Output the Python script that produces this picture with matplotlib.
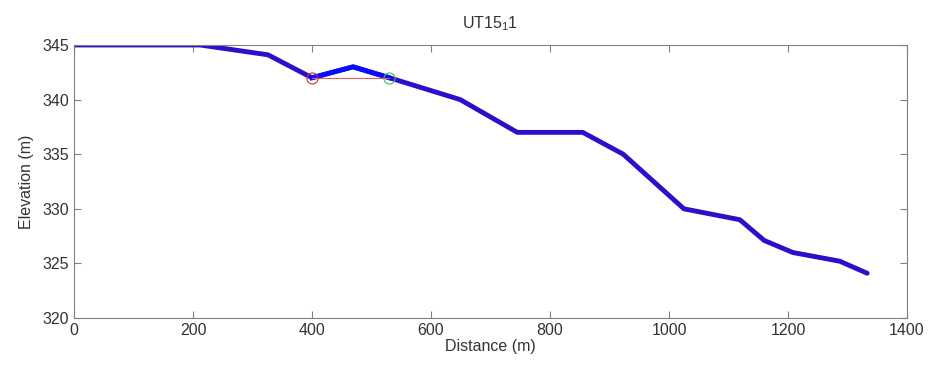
import matplotlib
matplotlib.use("Agg")
import matplotlib.pyplot as plt
import numpy as np

plt.rcParams['font.family'] = ['Liberation Sans', 'DejaVu Sans']
plt.rcParams['mathtext.fontset'] = 'custom'
plt.rcParams['mathtext.rm'] = 'Liberation Sans'
plt.rcParams['mathtext.it'] = 'Liberation Sans'

distance = [0, 212, 326, 400, 469, 530, 649, 745, 855, 923, 1025, 1119, 1160, 1208, 1287, 1333]
elevation = [345, 345, 344.1, 342, 343, 342, 340, 337, 337, 335, 330, 329, 327.1, 326, 325.2, 324.1]
pit_start = (400, 342)
pit_end = (530, 342)
xticks = [0, 200, 400, 600, 800, 1000, 1200, 1400]
yticks = [320, 325, 330, 335, 340, 345]

fig = plt.figure(figsize=(9.3, 3.7), dpi=100)
ax = fig.add_axes([0.0796, 0.1405, 0.9753 - 0.0796, 0.8784 - 0.1405])

d = np.array(distance)
e = np.array(elevation)
ax.plot(d, e, color='#2a10c8', lw=3.5, solid_joinstyle='round', solid_capstyle='round', zorder=2)
mask = (d > pit_start[0]) & (d < pit_end[0])
seg_d = np.concatenate([[pit_start[0]], d[mask], [pit_end[0]]])
seg_e = np.concatenate([[pit_start[1]], e[mask], [pit_end[1]]])
ax.plot(seg_d, seg_e, color='#0a0aff', lw=3.5, solid_joinstyle='round', zorder=3)
ax.plot([pit_start[0], pit_end[0]], [pit_start[1], pit_end[1]], color='#e06060', lw=0.8, zorder=4)
ax.plot([pit_start[0]], [pit_start[1]], 'o', mfc='none', mec='#d03030', ms=8, mew=0.8, zorder=5)
ax.plot([pit_end[0]], [pit_end[1]], 'o', mfc='none', mec='#40c040', ms=8, mew=0.8, zorder=5)

ax.set_xlim(0, 1400)
ax.set_ylim(320, 345)
ax.set_xticks(xticks)
ax.set_yticks(yticks)
ax.tick_params(direction='in', top=True, right=True, length=5, colors='#808080',
               labelcolor='#333333', labelsize=11.5, width=0.8)
for s in ax.spines.values():
    s.set_color('#808080')
    s.set_linewidth(0.8)
ax.set_xlabel('Distance (m)', fontsize=11.5, color='#333333', labelpad=1)
ax.set_ylabel('Elevation (m)', fontsize=11.5, color='#333333', labelpad=6)
ax.set_title(r'UT15$_{\mathregular{1}}$1', fontsize=11.5, color='#333333', pad=12)

fig.savefig('out.png', dpi=100)
